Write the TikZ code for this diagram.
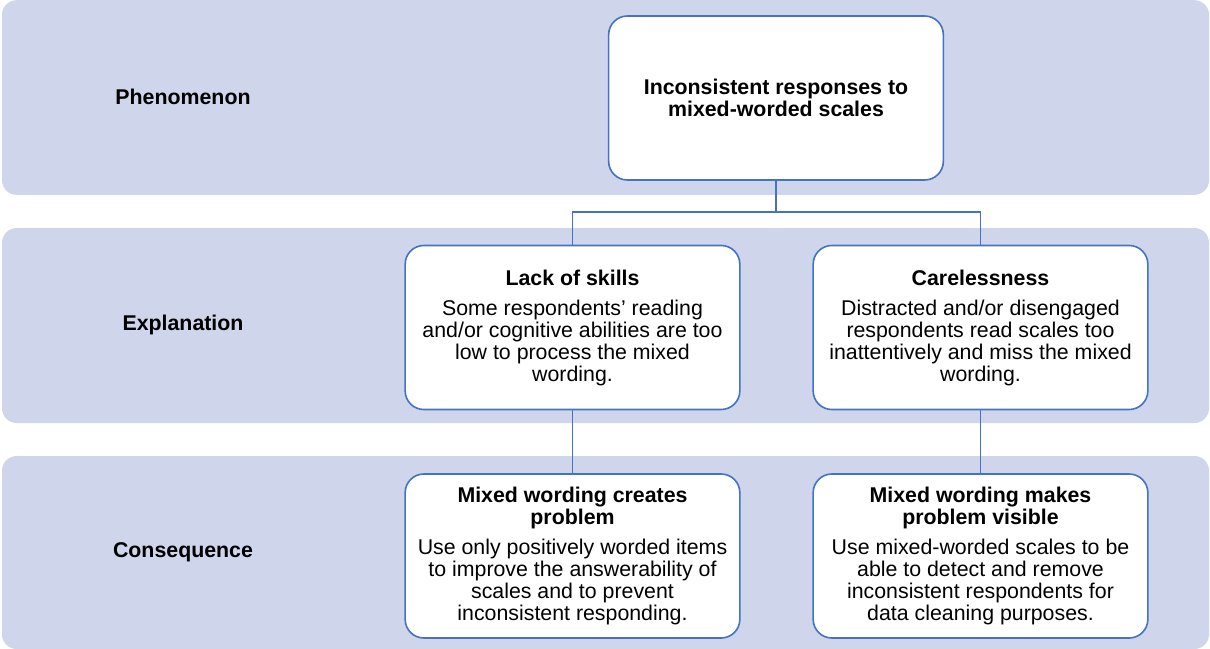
\documentclass[tikz,border=0pt]{standalone}
\usepackage{fontspec}
\setmainfont{Liberation Sans}
\definecolor{bandfill}{HTML}{CFD5EA}
\definecolor{boxline}{HTML}{4472C4}
\begin{document}
\begin{tikzpicture}[x=0.75pt,y=-0.75pt,
  band/.style={fill=bandfill,draw=none,rounded corners=11pt},
  box/.style={draw=boxline,line width=1.2pt,fill=white,rounded corners=14pt,
    minimum width=251pt,minimum height=123pt,inner sep=0pt,
    align=center,font=\fontsize{16}{16.5}\selectfont},
  toplbl/.style={font=\fontsize{16}{16.5}\selectfont\bfseries},
  conn/.style={draw=boxline,line width=1.2pt}]
\useasboundingbox (0,0) rectangle (1210,649);
% bands
\node[band,minimum width=905.25pt,minimum height=146pt,inner sep=0pt] (band1) at (605.5,97.5) {};
\node[band,minimum width=905.25pt,minimum height=146.25pt,inner sep=0pt] (band2) at (605.5,325.5) {};
\node[band,minimum width=905.25pt,minimum height=144.75pt,inner sep=0pt] (band3) at (605.5,552.5) {};
% row labels
\node[toplbl] (lphen) at (183,97) {Phenomenon};
\node[toplbl] (lexpl) at (183,325) {Explanation};
\node[toplbl] (lcons) at (183,552) {Consequence};
% boxes
\node[box,minimum height=123pt,font=\fontsize{16}{16.5}\selectfont\bfseries] (top) at (776,98)
  {Inconsistent responses to\\mixed-worded scales};
\node[box] (lack) at (572.5,327.5)
  {\textbf{Lack of skills}\\[6pt]Some respondents’ reading\\and/or cognitive abilities are too\\low to process the mixed\\wording.};
\node[box] (care) at (980.5,327.5)
  {\textbf{Carelessness}\\[6pt]Distracted and/or disengaged\\respondents read scales too\\inattentively and miss the mixed\\wording.};
\node[box] (creates) at (572.5,556)
  {\textbf{Mixed wording creates}\\\textbf{problem}\\[6pt]Use only positively worded items\\to improve the answerability of\\scales and to prevent\\inconsistent responding.};
\node[box] (visible) at (980.5,556)
  {\textbf{Mixed wording makes}\\\textbf{problem visible}\\[6pt]Use mixed-worded scales to be\\able to detect and remove\\inconsistent respondents for\\data cleaning purposes.};
% connectors
\coordinate (fork) at (776,212);
\draw[conn] (top.south) -- (fork);
\draw[conn] (lack.north) |- (fork) -| (care.north);
\draw[conn] (lack.south) -- (creates.north);
\draw[conn] (care.south) -- (visible.north);
\end{tikzpicture}
\end{document}
